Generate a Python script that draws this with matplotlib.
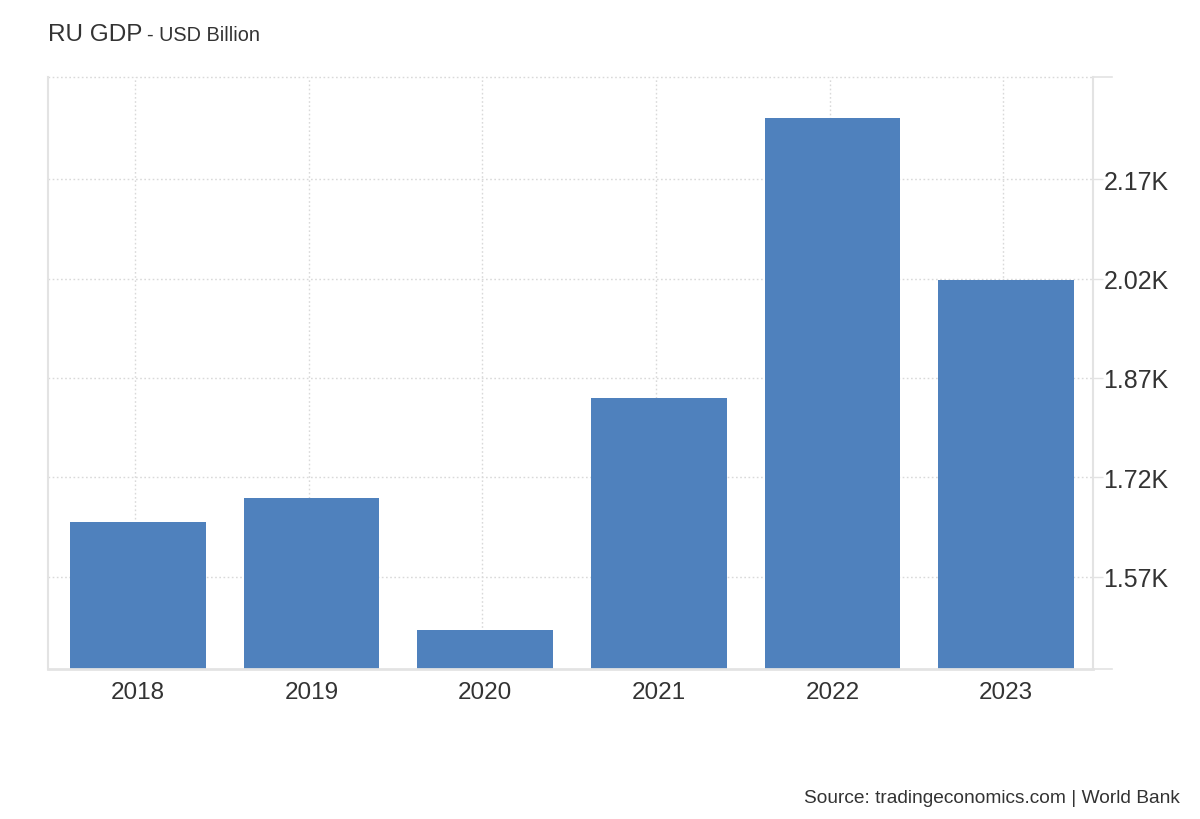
import matplotlib
matplotlib.use("Agg")
import matplotlib.pyplot as plt
from matplotlib.ticker import FixedLocator, FuncFormatter

plt.rcParams['font.family'] = ['Liberation Sans', 'DejaVu Sans']

years = ["2018", "2019", "2020", "2021", "2022", "2023"]
gdp = [1653, 1689, 1490, 1840, 2262, 2018]
yticks = [1570, 1720, 1870, 2020, 2170]
ylim = (1431, 2324)

bar_color = "#4f81bd"
grid_color = "#d9d9d9"
axis_color = "#e3e3e3"
text_color = "#333333"

fig = plt.figure(figsize=(12, 8.2), dpi=100)
ax = fig.add_axes([48/1200, 1-670/820, (1093-48)/1200, (670-78)/820])

x = list(range(len(years)))
ax.bar(x, gdp, width=0.78, color=bar_color, zorder=2)
ax.set_xlim(-0.517, 5.5)
ax.set_ylim(*ylim)

ax.set_xticks(x)
ax.set_xticklabels(years)
ax.yaxis.set_major_locator(FixedLocator(yticks))
ax.yaxis.set_major_formatter(FuncFormatter(lambda v, p: f"{v/1000:.2f}K"))
ax.yaxis.tick_right()

ax.tick_params(axis='x', length=0, pad=9, labelsize=17.5, labelcolor=text_color)
ax.tick_params(axis='y', length=7, width=1, color=axis_color, pad=0.5,
               labelsize=18, labelcolor=text_color)

dots = (0, (1.2, 1.8))
ax.grid(True, axis='y', color=grid_color, linestyle=dots, linewidth=1.0, zorder=0)
# vertical grid lines sit slightly left of the bar centres
for xi in x:
    ax.axvline(xi - 0.017, color=grid_color, linestyle=dots, linewidth=1.0, zorder=0)
ax.set_axisbelow(True)

ax.spines['top'].set_visible(False)
ax.spines['left'].set_color(axis_color)
ax.spines['left'].set_linewidth(1.5)
ax.spines['right'].set_color(axis_color)
ax.spines['right'].set_linewidth(1.5)
ax.spines['bottom'].set_color(axis_color)
ax.spines['bottom'].set_linewidth(2)

# top dotted line and extensions beyond the right axis
ax.axhline(ylim[1], color=grid_color, linestyle=dots, linewidth=1.0, zorder=0, clip_on=False)
ax.plot([1.0, 1.0182], [1.0, 1.0], transform=ax.transAxes, color=axis_color, lw=1.2, clip_on=False)
ax.plot([1.0, 1.0182], [0.0, 0.0], transform=ax.transAxes, color=axis_color, lw=1.2, clip_on=False)

fig.text(48/1200, 1-41/820, "RU GDP", fontsize=17.5, color=text_color, ha='left', va='baseline')
fig.text(147/1200, 1-41/820, "- USD Billion", fontsize=14.3, color=text_color, ha='left', va='baseline')
fig.text(1180/1200, 1-803/820, "Source: tradingeconomics.com | World Bank", fontsize=13.8,
         color=text_color, ha='right', va='baseline')

fig.savefig("out.png", dpi=100, facecolor='white')
